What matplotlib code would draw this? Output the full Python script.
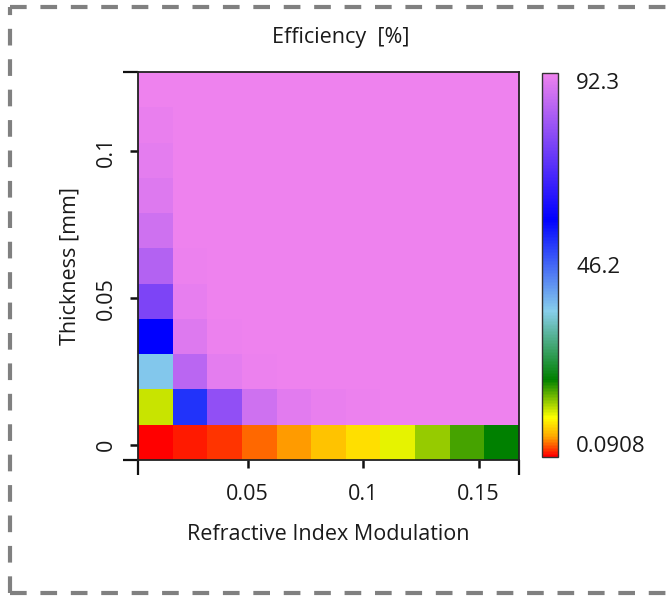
import numpy as np
import matplotlib
matplotlib.use("Agg")
import matplotlib.pyplot as plt
from matplotlib.colors import LinearSegmentedColormap
from matplotlib.lines import Line2D

plt.rcParams['font.family'] = ['Open Sans', 'DejaVu Sans']

# grid: refractive index modulation (columns) x thickness in mm (rows)
dn = [0.01, 0.025, 0.04, 0.055, 0.07, 0.085, 0.1, 0.115, 0.13, 0.145, 0.16]
thick = [0.001, 0.013, 0.025, 0.037, 0.049, 0.061, 0.073, 0.085, 0.097, 0.109, 0.121]

# efficiency [%], one list per thickness, bottom row first
eff_r0 = [0.0908, 0.84, 1.79, 3.1, 4.7, 6.4, 8.0, 10.3, 13.2, 16.1, 18.5]
eff_r1 = [11.4, 51.7, 78.3, 87.3, 90.3, 91.3, 91.8, 92.0, 92.1, 92.2, 92.3]
eff_r2 = [36.0, 84.4, 90.5, 91.8, 92.1, 92.2, 92.3, 92.3, 92.3, 92.3, 92.3]
eff_r3 = [57.2, 89.5, 91.8, 92.2, 92.3, 92.3, 92.3, 92.3, 92.3, 92.3, 92.3]
eff_r4 = [75.4, 91.2, 92.1, 92.3, 92.3, 92.3, 92.3, 92.3, 92.3, 92.3, 92.3]
eff_r5 = [83.5, 91.8, 92.2, 92.3, 92.3, 92.3, 92.3, 92.3, 92.3, 92.3, 92.3]
eff_r6 = [87.3, 92.0, 92.3, 92.3, 92.3, 92.3, 92.3, 92.3, 92.3, 92.3, 92.3]
eff_r7 = [89.6, 92.1, 92.3, 92.3, 92.3, 92.3, 92.3, 92.3, 92.3, 92.3, 92.3]
eff_r8 = [90.8, 92.2, 92.3, 92.3, 92.3, 92.3, 92.3, 92.3, 92.3, 92.3, 92.3]
eff_r9 = [91.5, 92.2, 92.3, 92.3, 92.3, 92.3, 92.3, 92.3, 92.3, 92.3, 92.3]
eff_r10 = [92.0, 92.3, 92.3, 92.3, 92.3, 92.3, 92.3, 92.3, 92.3, 92.3, 92.3]

eff = np.array([eff_r0, eff_r1, eff_r2, eff_r3, eff_r4, eff_r5,
                eff_r6, eff_r7, eff_r8, eff_r9, eff_r10])

vmin, vmax = 0.0908, 92.3
cbar_ticks = [0.0908, 46.2, 92.3]
x_ticks = [0.05, 0.1, 0.15]
y_ticks = [0, 0.05, 0.1]

# rainbow-ish map: red -> orange -> yellow -> green -> sky blue -> blue -> violet
cmap = LinearSegmentedColormap.from_list("eff", [
    (0.0, "#ff0000"), (0.05, "#ffa500"), (0.10, "#ffff00"),
    (0.20, "#008000"), (0.38, "#87ceeb"), (0.62, "#0000ff"),
    (1.0, "#ee82ee")])

# cell edges from the centers
dx = dn[1] - dn[0]
dy = thick[1] - thick[0]
xe = np.append(np.array(dn) - dx / 2, dn[-1] + dx / 2)
ye = np.append(np.array(thick) - dy / 2, thick[-1] + dy / 2)

fig = plt.figure(figsize=(6.66, 5.98), dpi=100)
ax = fig.add_axes([0.2072, 0.2308, 0.5721, 0.6488])
mesh = ax.pcolormesh(xe, ye, eff, cmap=cmap, vmin=vmin, vmax=vmax, shading='flat')
ax.set_xlim(xe[0], xe[-1])
ax.set_ylim(ye[0], ye[-1])

for s in ax.spines.values():
    s.set_linewidth(1.3)
    s.set_color("#222222")

ax.set_xticks(x_ticks)
ax.set_xticklabels(["0.05", "0.1", "0.15"])
ax.set_yticks(y_ticks)
ax.set_yticklabels(["0", "0.05", "0.1"], rotation=90, va='center')
ax.tick_params(axis='both', length=6, width=1.8, color="#111111",
               labelsize=15.5, labelcolor="#1a1a1a")
ax.tick_params(axis='x', pad=11)
ax.tick_params(axis='y', pad=9)
# short end marks at the ends of each axis
ax.set_xticks([xe[0], xe[-1]], minor=True)
ax.set_yticks([ye[0], ye[-1]], minor=True)
ax.tick_params(which='minor', length=11, width=1.6, color="#111111")

ax.set_xlabel("Refractive Index Modulation", fontsize=15.5, color="#1a1a1a", labelpad=14)
ax.set_ylabel("Thickness [mm]", fontsize=15.5, color="#1a1a1a", labelpad=11)
fig.text(341 / 666, 1 - 37 / 598, "Efficiency  [%]", ha='center', va='center',
         fontsize=15.5, color="#1a1a1a")

cax = fig.add_axes([0.8138, 0.2358, 0.024, 0.6421])
cbar = fig.colorbar(mesh, cax=cax, ticks=cbar_ticks)
cbar.outline.set_linewidth(1.0)
cbar.outline.set_edgecolor("#333333")
cbar.ax.set_yticklabels(["0.0908", "46.2", "92.3"])
cbar.ax.tick_params(length=0, pad=13, labelsize=16, labelcolor="#1a1a1a")
labs = cbar.ax.get_yticklabels()
labs[0].set_va('bottom')
labs[-1].set_va('top')

# dashed grey frame around the figure
frame = dict(color="#808080", lw=3, ls=(0, (4, 3.3)), transform=fig.transFigure)
fig.add_artist(Line2D([10 / 666, 1.02], [1 - 7 / 598, 1 - 7 / 598], **frame))
fig.add_artist(Line2D([10 / 666, 1.02], [1 - 593 / 598, 1 - 593 / 598], **frame))
fig.add_artist(Line2D([10 / 666, 10 / 666], [1 - 593 / 598, 1 - 7 / 598], **frame))

fig.savefig("out.png", dpi=100)
